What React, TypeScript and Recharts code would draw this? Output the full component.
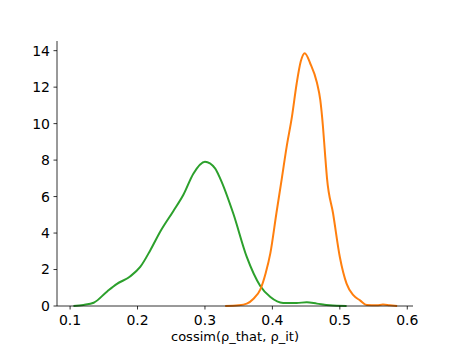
import { LineChart, Line, XAxis, YAxis } from 'recharts';

// KDE of cosine similarity
const greenX = [0.105, 0.12, 0.135, 0.155, 0.169, 0.189, 0.204, 0.219, 0.234, 0.253, 0.268, 0.283, 0.3, 0.315, 0.3225, 0.342, 0.362, 0.382, 0.397, 0.416, 0.436, 0.451, 0.466, 0.485, 0.51];
const greenY = [0, 0.06, 0.18, 0.8, 1.2, 1.62, 2.14, 3.06, 4.1, 5.2, 6.1, 7.27, 7.91, 7.55, 7.0, 5.07, 2.69, 1.1, 0.49, 0.17, 0.17, 0.2, 0.13, 0.04, 0];

const orangeX = [0.33, 0.35, 0.362, 0.372, 0.382, 0.39, 0.397, 0.406, 0.414, 0.421, 0.429, 0.436, 0.442, 0.448, 0.456, 0.466, 0.471, 0.475, 0.478, 0.481, 0.49, 0.5, 0.51, 0.52, 0.53, 0.54, 0.555, 0.564, 0.574, 0.585];
const orangeY = [0, 0.04, 0.13, 0.4, 0.9, 1.8, 2.9, 5.1, 7.0, 8.7, 10.38, 12.2, 13.4, 13.86, 13.31, 12.25, 11.3, 9.83, 8.37, 7.0, 5.07, 2.69, 1.23, 0.59, 0.31, 0.05, 0.04, 0.08, 0.04, 0];

const xTicks = [0.1, 0.2, 0.3, 0.4, 0.5, 0.6];
const yTicks = [0, 2, 4, 6, 8, 10, 12, 14];

const greenData = greenX.map((x, i) => ({ x, y: greenY[i] }));
const orangeData = orangeX.map((x, i) => ({ x, y: orangeY[i] }));

const font = '"DejaVu Sans", sans-serif';

export default function App() {
  return (
    <div style={{ position: 'absolute', left: 0, top: 0, background: '#fff' }}>
      <LineChart
        width={458}
        height={344}
        margin={{ top: 41, right: 45, bottom: 0, left: 0 }}
      >
        <XAxis
          dataKey="x"
          type="number"
          domain={[0.0806, 0.6085]}
          ticks={xTicks}
          tickFormatter={(v) => String(v)}
          allowDuplicatedCategory={false}
          height={38}
          tickSize={3.5}
          tickMargin={6}
          stroke="#000"
          strokeWidth={0.8}
          tick={{ fontSize: 14, fill: '#000', fontFamily: font }}
          label={{
            value: 'cossim(ρ_that, ρ_it)',
            position: 'insideBottom',
            offset: 3,
            style: { fontSize: 13, fill: '#000', fontFamily: font },
          }}
        />
        <YAxis
          type="number"
          domain={[0, 14.53]}
          ticks={yTicks}
          width={57}
          tickSize={3.5}
          tickMargin={3.5}
          stroke="#000"
          strokeWidth={0.8}
          tick={{ fontSize: 14, fill: '#000', fontFamily: font }}
        />
        <Line
          data={greenData}
          dataKey="y"
          type="monotone"
          stroke="#2ca02c"
          strokeWidth={2}
          dot={false}
          isAnimationActive={false}
        />
        <Line
          data={orangeData}
          dataKey="y"
          type="monotone"
          stroke="#ff7f0e"
          strokeWidth={2}
          dot={false}
          isAnimationActive={false}
        />
      </LineChart>
    </div>
  );
}
